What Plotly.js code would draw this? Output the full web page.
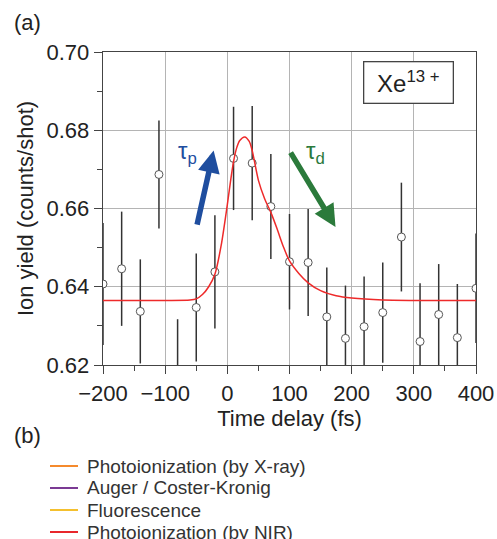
<!DOCTYPE html>
<html>
<head>
<meta charset="utf-8">
<script src="https://cdn.plot.ly/plotly-3.0.1.min.js"></script>
<style>html,body{margin:0;padding:0;background:#fff;}#chart{width:497px;height:539px;}</style>
</head>
<body>
<div id="chart"></div>
<script>
// Measured data (Xe13+ ion yield vs time delay)
const delay = [-200,-170,-140,-110,-80,-50,-20,10,40,70,100,130,160,190,220,250,280,310,340,370,400];
const ionYield = [0.6407,0.6446,0.6337,0.6687,0.6177,0.6347,0.6438,0.6728,0.6716,0.6605,0.6464,0.6462,0.6323,0.6268,0.6298,0.6334,0.6527,0.6260,0.6329,0.6270,0.6396];
const yieldErr = [0.0156,0.0146,0.0133,0.0138,0.0140,0.0138,0.0145,0.0132,0.0146,0.0134,0.0122,0.0137,0.0126,0.0135,0.0128,0.0128,0.0139,0.0149,0.0129,0.0137,0.0140];

// Fit curve
const fitDelay = [-200,-100,-60,-50,-40,-30,-20,-10,0,5,10,15,20,28,35,40,50,60,70,80,90,100,115,130,150,175,200,250,300,400];
const fitYield = [0.6365,0.6365,0.6366,0.6369,0.6380,0.6400,0.6432,0.6505,0.6610,0.6668,0.6720,0.6755,0.6774,0.6783,0.6772,0.6748,0.6672,0.6625,0.6590,0.6548,0.6503,0.6466,0.6434,0.6410,0.6390,0.6377,0.6371,0.6366,0.6365,0.6365];

// Tick labels
const xTicks = [-200,-100,0,100,200,300,400];
const yTicks = [0.62,0.64,0.66,0.68,0.70];

// Panel (b) legend
const legendLabels = ["Photoionization (by X-ray)","Auger / Coster-Kronig","Fluorescence","Photoionization (by NIR)"];
const legendColors = ["#f58a2c","#7b3a94","#f4c02e","#e8262b"];

const W = 497, H = 539;
const M = {l:103, r:21, t:52, b:174};
const pw = W - M.l - M.r, ph = H - M.t - M.b;
const px = x => (x - M.l) / pw;
const py = y => (H - M.b - y) / ph;
const FONT = '"Liberation Sans", Arial, sans-serif';

const traces = [
  {
    x: delay, y: ionYield, type: 'scatter', mode: 'markers',
    error_y: {type:'data', array: yieldErr, visible:true, color:'#333', thickness:1.5, width:0},
    marker: {size:8, color:'#ffffff', line:{color:'#555', width:1}},
    showlegend:false, hoverinfo:'x+y'
  },
  {
    x: fitDelay, y: fitYield, type:'scatter', mode:'lines',
    line: {color:'#ee2a2a', width:1.5, shape:'spline', smoothing:0.8},
    showlegend:false
  }
];

const annotations = [
  {xref:'paper', yref:'paper', x:px(12), y:py(22), xanchor:'left', yanchor:'middle', text:'(a)', showarrow:false, font:{size:22, color:'#222', family:FONT}},
  {xref:'paper', yref:'paper', x:px(12), y:py(435), xanchor:'left', yanchor:'middle', text:'(b)', showarrow:false, font:{size:22, color:'#222', family:FONT}},
  {xref:'paper', yref:'paper', x:px(408), y:py(83), xanchor:'center', yanchor:'middle', text:'Xe<sup>13 +</sup>', showarrow:false,
   font:{size:24, color:'#222', family:FONT}, bordercolor:'#444', borderwidth:1.3, borderpad:0, bgcolor:'#ffffff', width:88, height:40},
  // tau_p arrow
  {xref:'x', yref:'y', axref:'x', ayref:'y', x:-22, y:0.6748, ax:-49, ay:0.6556, showarrow:true, arrowhead:2, arrowsize:0.8, arrowwidth:5.5, arrowcolor:'#1f4e9f', text:' ', font:{size:1}, borderpad:0},
  {xref:'paper', yref:'paper', x:px(176), y:py(135), text:'τ<sub>p</sub>', showarrow:false, font:{size:24, color:'#1f4e9f', family:FONT}},
  // tau_d arrow
  {xref:'x', yref:'y', axref:'x', ayref:'y', x:174, y:0.6553, ax:101, ay:0.6745, showarrow:true, arrowhead:2, arrowsize:0.8, arrowwidth:5.5, arrowcolor:'#2b7a3b', text:' ', font:{size:1}, borderpad:0},
  {xref:'paper', yref:'paper', x:px(315), y:py(135), text:'τ<sub>d</sub>', showarrow:false, font:{size:24, color:'#2b7a3b', family:FONT}}
];

const shapes = [];
const rowY = [466, 488, 510, 532];
legendLabels.forEach((lab, i) => {
  shapes.push({type:'line', xref:'paper', yref:'paper', x0:px(50), x1:px(78), y0:py(rowY[i]), y1:py(rowY[i]), line:{color:legendColors[i], width:2}});
  annotations.push({xref:'paper', yref:'paper', x:px(85), y:py(rowY[i]), xanchor:'left', yanchor:'middle', text:lab, showarrow:false, font:{size:19, color:'#333', family:FONT}});
});

const layout = {
  width: W, height: H,
  margin: {l:M.l, r:M.r, t:M.t, b:M.b, pad:0},
  paper_bgcolor:'#ffffff', plot_bgcolor:'#ffffff',
  font: {family:FONT, size:22, color:'#222'},
  showlegend:false,
  xaxis: {
    range:[-200,400], tickvals:xTicks, ticktext:xTicks.map(v => v<0 ? '\u2212'+Math.abs(v) : String(v)),
    ticks:'outside', ticklen:8, tickwidth:1, tickcolor:'#444',
    minor:{dtick:50, tick0:0, ticks:'outside', ticklen:5, tickcolor:'#444', showgrid:false},
    showgrid:true, gridcolor:'#b4b4b4', gridwidth:1,
    showline:true, linecolor:'#444', linewidth:1.3, mirror:true, zeroline:false,
    tickfont:{size:22, color:'#222'},
    title:{text:'Time delay (fs)', font:{size:22, color:'#222'}, standoff:0}
  },
  yaxis: {
    range:[0.62,0.70], tickvals:yTicks, ticktext:yTicks.map(v => v.toFixed(2)),
    ticks:'outside', ticklen:8, tickwidth:1, tickcolor:'#444',
    minor:{dtick:0.01, tick0:0.62, ticks:'outside', ticklen:5, tickcolor:'#444', showgrid:false},
    showgrid:true, gridcolor:'#b4b4b4', gridwidth:1,
    showline:true, linecolor:'#444', linewidth:1.3, mirror:true, zeroline:false,
    tickfont:{size:22, color:'#222'},
    title:{text:'Ion yield (counts/shot)', font:{size:22, color:'#222'}, standoff:6}
  },
  annotations: annotations,
  shapes: shapes
};

Plotly.newPlot('chart', traces, layout, {displayModeBar:false, staticPlot:true});
</script>
</body>
</html>
